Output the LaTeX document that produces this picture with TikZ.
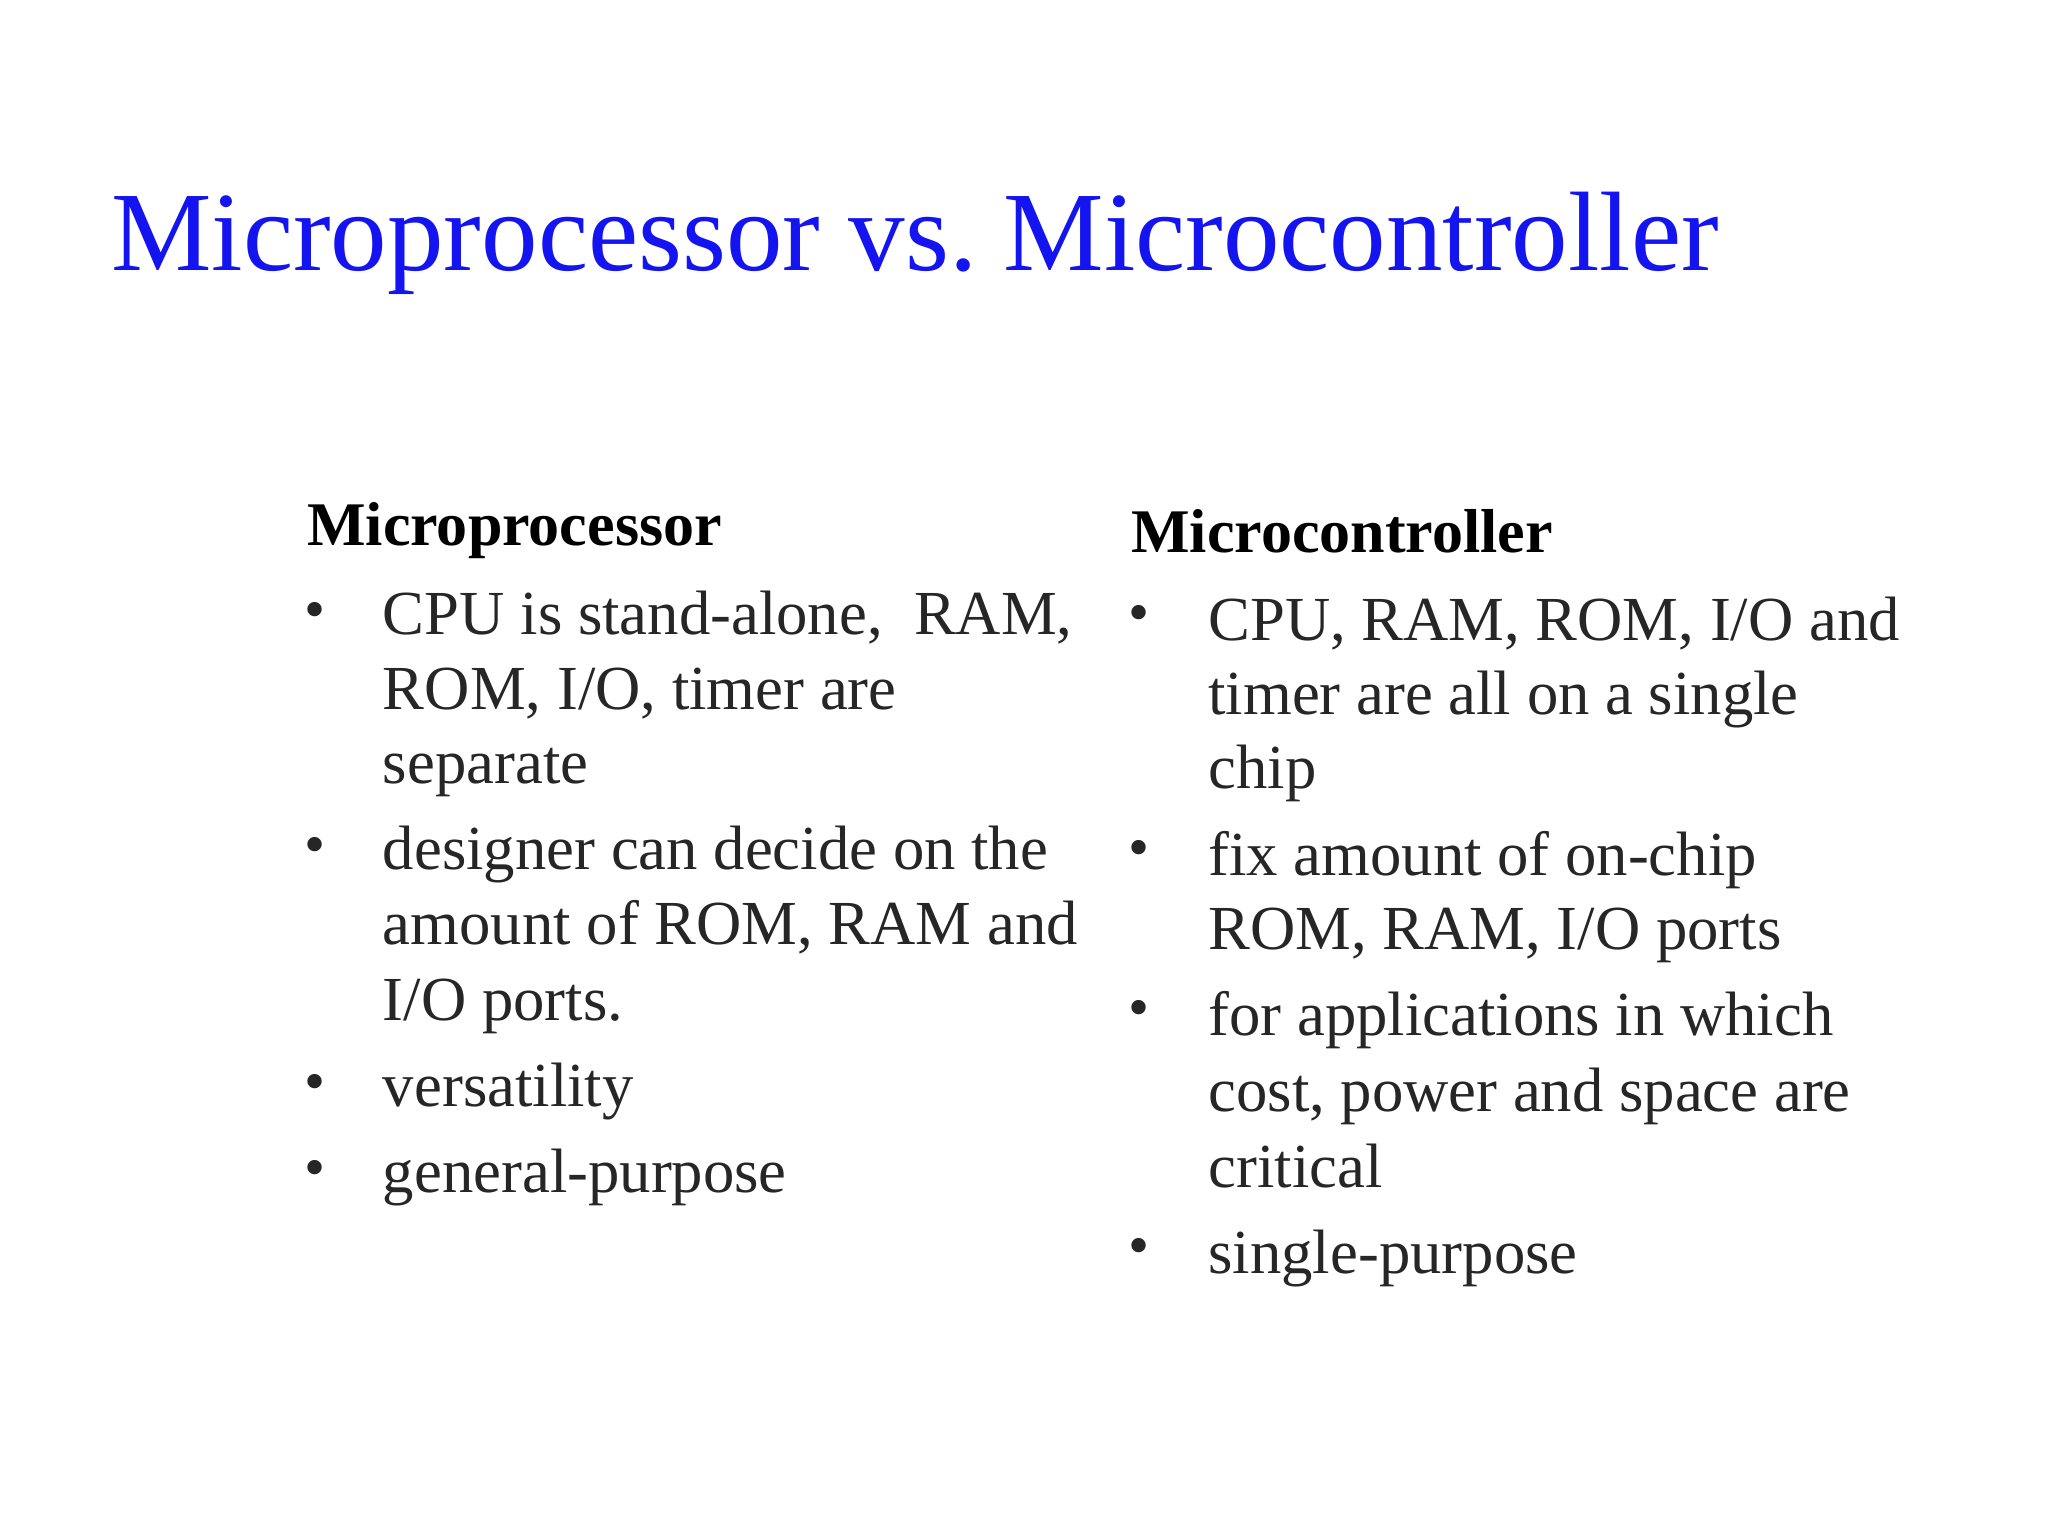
\documentclass[tikz,border=0pt]{standalone}
\usepackage{fontspec}
\setmainfont{Liberation Serif}
\begin{document}
\begin{tikzpicture}[x=1pt,y=-1pt,
  txt/.style={anchor=base west,inner sep=0pt,font=\fontsize{48}{56}\selectfont,text=black!85},
  hd/.style={txt,font=\fontsize{47.5}{56}\selectfont\bfseries,text=black},
  bul/.style={anchor=base west,inner sep=0pt,font=\fontsize{46}{56}\selectfont,text=black!85}]
\useasboundingbox (0,0) rectangle (1568,1176);
\node[anchor=base west,inner sep=0pt,font=\fontsize{86.5}{100}\selectfont,text={rgb,255:red,20;green,20;blue,240}] (title) at (85,207) {Microprocessor vs.\hspace{-0.1em} Microcontroller};
% left
\node[hd] (lh) at (235,418) {Microprocessor};
\node[bul] (lb1) at (233,482) {•};
\node[txt] (l1a) at (293,486) {CPU is stand-alone,\ \ RAM,};
\node[txt] (l1b) at (293,543) {ROM, I/O, timer are};
\node[txt] (l1c) at (293,600) {separate};
\node[bul] (lb2) at (233,662) {•};
\node[txt] (l2a) at (293,666) {designer can decide on the};
\node[txt] (l2b) at (293,723) {amount of ROM, RAM and};
\node[txt] (l2c) at (293,781) {I/O ports.};
\node[bul] (lb3) at (233,843) {•};
\node[txt] (l3) at (293,847) {versatility};
\node[bul] (lb4) at (233,909) {•};
\node[txt] (l4) at (293,913) {general-purpose};
% right
\node[hd] (rh) at (866,423) {Microcontroller};
\node[bul] (rb1) at (864,484) {•};
\node[txt] (r1a) at (925,490) {CPU, RAM, ROM, I/O and};
\node[txt] (r1b) at (925,547) {timer are all on a single};
\node[txt] (r1c) at (925,604) {chip};
\node[bul] (rb2) at (864,664) {•};
\node[txt] (r2a) at (925,670) {fix amount of on-chip};
\node[txt] (r2b) at (925,727) {ROM, RAM, I/O ports};
\node[bul] (rb3) at (864,787) {•};
\node[txt] (r3a) at (925,793) {for applications in which};
\node[txt] (r3b) at (925,851) {cost, power and space are};
\node[txt] (r3c) at (925,909) {critical};
\node[bul] (rb4) at (864,969) {•};
\node[txt] (r4) at (925,975) {single-purpose};
\end{tikzpicture}
\end{document}
